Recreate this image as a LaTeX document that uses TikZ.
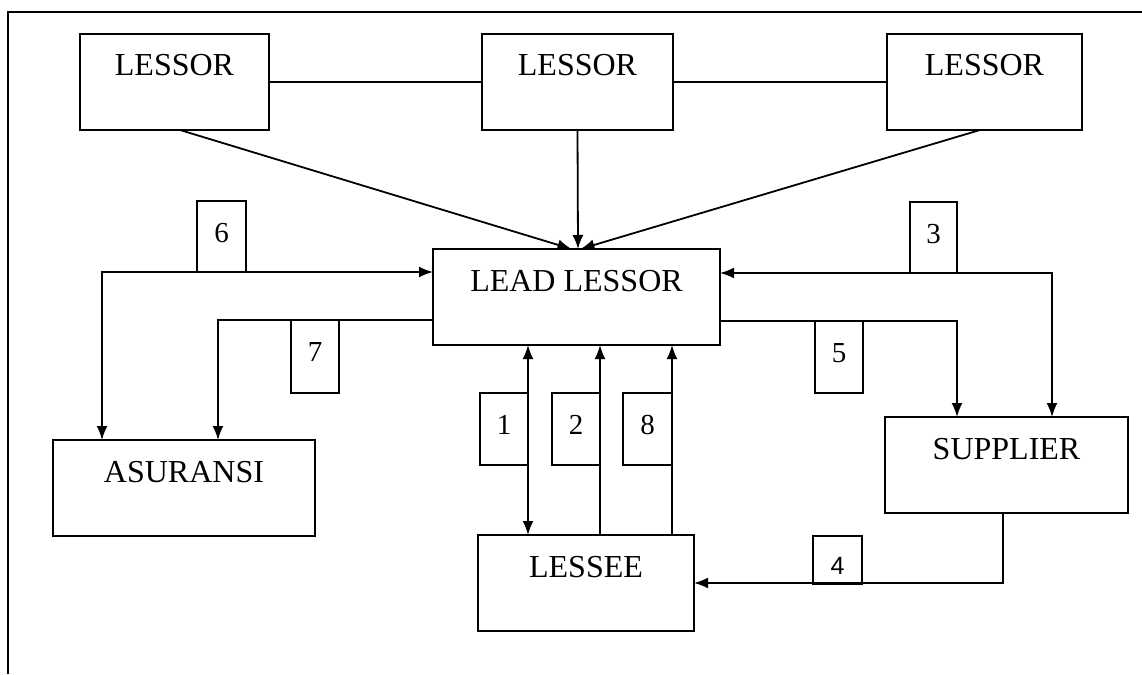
\documentclass[tikz,border=0pt]{standalone}
\usepackage{fontspec}
\setmainfont{Liberation Serif}
\newfontfamily\numsans{Liberation Sans}
\usetikzlibrary{arrows.meta,calc}
\begin{document}
\begin{tikzpicture}[x=1pt,y=-1pt,
  box/.style={draw,rectangle,line width=1.9pt,inner sep=0pt,outer sep=0pt},
  lbl/.style={anchor=base,yshift=-42pt,inner sep=0pt,font=\fontsize{32}{34}\selectfont},
  numlbl/.style={anchor=base,yshift=-41pt,inner sep=0pt,font=\fontsize{29}{31}\selectfont},
  conn/.style={line width=1.8pt},
  arr/.style={conn,-{Latex[length=14pt,width=11pt]}},
  darr/.style={conn,{Latex[length=14pt,width=11pt]}-{Latex[length=14pt,width=11pt]}}
]
\useasboundingbox (0,0) rectangle (1142,674);
\fill[white] (0,0) rectangle (1142,674);
% frame
\draw[line width=2pt] (8,674) -- (8,12) -- (1142,12);

% main boxes
\node[box,minimum width=189pt,minimum height=96pt,label={[lbl]north:LESSOR}] (l1) at (174.5,82) {};
\node[box,minimum width=191pt,minimum height=96pt,label={[lbl]north:LESSOR}] (l2) at (577.5,82) {};
\node[box,minimum width=195pt,minimum height=96pt,label={[lbl]north:LESSOR}] (l3) at (984.5,82) {};
\node[box,minimum width=287pt,minimum height=96pt,label={[lbl]north:LEAD LESSOR}] (lead) at (576.5,297) {};
\node[box,minimum width=262pt,minimum height=96pt,label={[lbl]north:ASURANSI}] (asr) at (184,488) {};
\node[box,minimum width=243pt,minimum height=96pt,label={[lbl]north:SUPPLIER}] (sup) at (1006.5,465) {};
\node[box,minimum width=216pt,minimum height=96pt,label={[lbl]north:LESSEE}] (lessee) at (586,583) {};

% number boxes
\node[box,minimum width=49pt,minimum height=71pt,label={[numlbl]north:6}] (n6) at (221.5,236.5) {};
\node[box,minimum width=47pt,minimum height=71pt,label={[numlbl]north:3}] (n3) at (933.5,237.5) {};
\node[box,minimum width=48pt,minimum height=73pt,label={[numlbl]north:7}] (n7) at (315,356.5) {};
\node[box,minimum width=48pt,minimum height=72pt,label={[numlbl]north:5}] (n5) at (839,357) {};
\node[box,minimum width=48pt,minimum height=72pt,label={[numlbl]north:1}] (n1) at (504,429) {};
\node[box,minimum width=48pt,minimum height=72pt,label={[numlbl]north:2}] (n2) at (576,429) {};
\node[box,minimum width=49pt,minimum height=72pt,label={[numlbl]north:8}] (n8) at (647.5,429) {};
\node[box,minimum width=49pt,minimum height=48pt,label={[numlbl,yshift=3pt,font=\numsans\fontsize{25}{27}\selectfont]north:4}] (n4) at (837.5,560) {};

% connector end points
\coordinate (t1) at ($(lead.north)+(-5,0)$);
\coordinate (t2) at ($(lead.north)+(1.5,0)$);
\coordinate (t3) at ($(lead.north)+(4,0)$);
\coordinate (s1) at ($(l1.south)+(5.5,0)$);
\coordinate (s3) at ($(l3.south)+(-4.5,0)$);

% lessor links
\draw[conn] (l1.east) -- (l2.west);
\draw[conn] (l2.east) -- (l3.west);
\draw[arr] (s1) -- (t1);
\draw[arr] (l2.south) -- (t2);
\draw[arr] (s3) -- (t3);

% 6 and 7 (asuransi)
\draw[darr] ($(asr.north west)+(49,0)$) |- ($(lead.west)+(0,-25)$);
\draw[arr] ($(lead.west)+(0,23)$) -| ($(asr.north west)+(165,0)$);

% 3 and 5 (supplier)
\draw[darr] ($(lead.east)+(0,-24)$) -| ($(sup.north west)+(167,0)$);
\draw[arr] ($(lead.east)+(0,24)$) -| ($(sup.north west)+(72,0)$);

% 1, 2, 8 (lessee)
\draw[darr] ($(lead.south west)+(95,0)$) -- ($(lessee.north west)+(50,0)$);
\draw[arr] ($(lessee.north west)+(122,0)$) -- ($(lead.south west)+(167,0)$);
\draw[arr] ($(lessee.north west)+(194,0)$) -- ($(lead.south west)+(239,0)$);

% 4 (supplier to lessee)
\draw[arr] ($(sup.south west)+(118,0)$) |- (lessee.east);
\end{tikzpicture}
\end{document}
